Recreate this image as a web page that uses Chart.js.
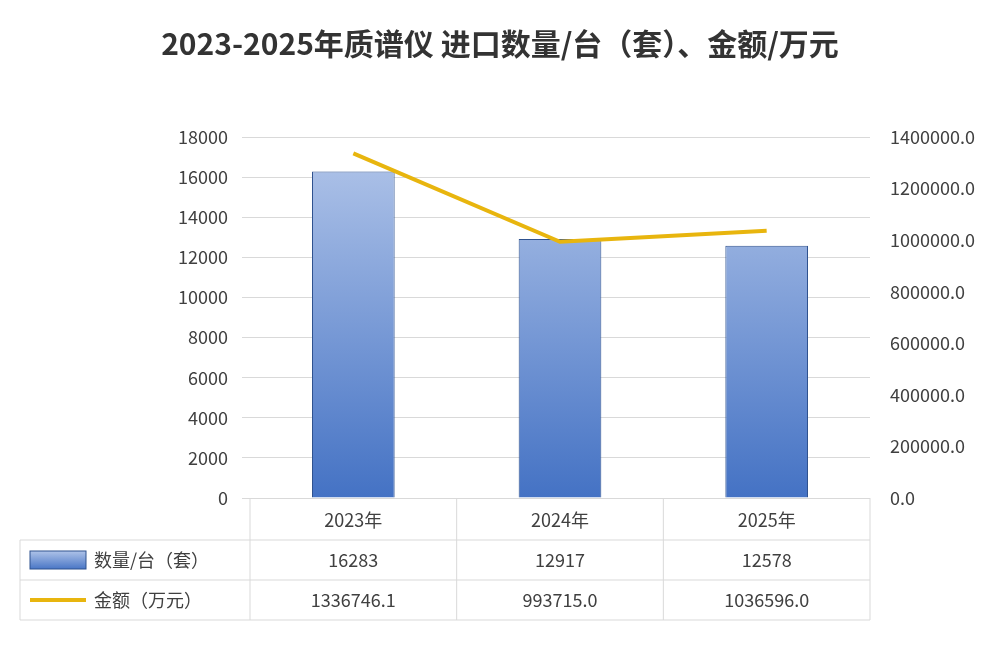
<!DOCTYPE html>
<html><head><meta charset="utf-8">
<script src="https://cdn.jsdelivr.net/npm/chart.js@4/dist/chart.umd.min.js"></script>
<style>body{margin:0;background:#fff}#wrap{width:1000px;height:663px}</style>
</head><body><div id="wrap"><canvas id="c"></canvas></div>
<script>
const categories = ['2023年', '2024年', '2025年'];
const quantity = [16283, 12917, 12578];
const amount = [1336746.1, 993715.0, 1036596.0];
const quantityLabels = ['16283', '12917', '12578'];
const amountLabels = ['1336746.1', '993715.0', '1036596.0'];
const seriesNames = ['数量/台（套）', '金额（万元）'];
const title = '2023-2025年质谱仪 进口数量/台（套）、金额/万元';

const FONT = '"Noto Sans CJK SC", "Noto Sans", sans-serif';
const GRID = '#d9d9d9';
const TXT = '#404040';

function barGradient(ctx, top, bottom) {
    const g = ctx.createLinearGradient(0, top, 0, bottom);
    g.addColorStop(0, '#b4c7ea');
    g.addColorStop(1, '#4472c4');
    return g;
}

// Title + data table drawn around the chart area
const tablePlugin = {
    id: 'tablePlugin',
    afterDraw(chart) {
        const ctx = chart.ctx;
        const a = chart.chartArea;
        const x = chart.scales.x;
        ctx.save();
        ctx.fillStyle = '#333';
        ctx.font = 'bold 30px ' + FONT;
        ctx.textAlign = 'center';
        ctx.textBaseline = 'middle';
        ctx.fillText(title, 500, 44);

        const rows = [a.bottom, 540, 580, 620];
        const colW = (a.right - a.left) / categories.length;
        ctx.strokeStyle = GRID;
        ctx.lineWidth = 1;
        ctx.beginPath();
        for (let i = 0; i <= categories.length; i++) {
            const cx = a.left + i * colW;
            ctx.moveTo(cx, a.bottom); ctx.lineTo(cx, rows[3]);
        }
        ctx.moveTo(20, rows[1]); ctx.lineTo(20, rows[3]);
        ctx.moveTo(20, rows[1]); ctx.lineTo(a.right, rows[1]);
        ctx.moveTo(20, rows[2]); ctx.lineTo(a.right, rows[2]);
        ctx.moveTo(20, rows[3]); ctx.lineTo(a.right, rows[3]);
        ctx.stroke();

        ctx.fillStyle = TXT;
        ctx.font = '18px ' + FONT;
        categories.forEach((c, i) => {
            const cx = x.getPixelForValue(i);
            ctx.fillText(c, cx, 520);
            ctx.fillText(quantityLabels[i], cx, 560);
            ctx.fillText(amountLabels[i], cx, 600);
        });

        // legend keys
        ctx.fillStyle = barGradient(ctx, 550, 570);
        ctx.fillRect(30, 551, 56, 18);
        ctx.strokeStyle = '#2f528f';
        ctx.strokeRect(30, 551, 56, 18);
        ctx.strokeStyle = '#e8b50e';
        ctx.lineWidth = 4;
        ctx.beginPath(); ctx.moveTo(30, 600); ctx.lineTo(86, 600); ctx.stroke();
        ctx.fillStyle = TXT;
        ctx.textAlign = 'left';
        ctx.fillText(seriesNames[0], 94, 560);
        ctx.fillText(seriesNames[1], 94, 600);
        ctx.restore();
    }
};

new Chart(document.getElementById('c'), {
    data: {
        labels: categories,
        datasets: [
            {
                type: 'line', label: seriesNames[1], data: amount, yAxisID: 'y1',
                borderColor: '#e8b50e', borderWidth: 4, pointRadius: 0, tension: 0
            },
            {
                type: 'bar', label: seriesNames[0], data: quantity, yAxisID: 'y',
                backgroundColor: c => {
                    const a = c.chart.chartArea;
                    return a ? barGradient(c.chart.ctx, a.top, a.bottom) : '#4472c4';
                },
                borderColor: '#2f528f', borderWidth: 1,
                barPercentage: 0.4, categoryPercentage: 1
            }
        ]
    },
    options: {
        responsive: true, maintainAspectRatio: false, animation: false,
        layout: { padding: { top: 137, bottom: 165, left: 0, right: 0 } },
        plugins: { legend: { display: false }, tooltip: { enabled: false } },
        scales: {
            x: {
                ticks: { display: false }, grid: { display: false }, border: { display: false },
                afterFit: s => { s.height = 0; }
            },
            y: {
                position: 'left', min: 0, max: 18000,
                ticks: { stepSize: 2000, color: TXT, font: { size: 18, family: FONT }, padding: 14,
                    callback: v => String(v) },
                grid: { color: GRID }, border: { display: false },
                afterFit: s => { s.width = 250; }
            },
            y1: {
                position: 'right', min: 0, max: 1400000,
                ticks: { stepSize: 200000, color: TXT, font: { size: 18, family: FONT }, padding: 12,
                    callback: v => v.toFixed(1) },
                grid: { display: false }, border: { display: false },
                afterFit: s => { s.width = 130; }
            }
        }
    },
    plugins: [tablePlugin]
});
</script></body></html>
